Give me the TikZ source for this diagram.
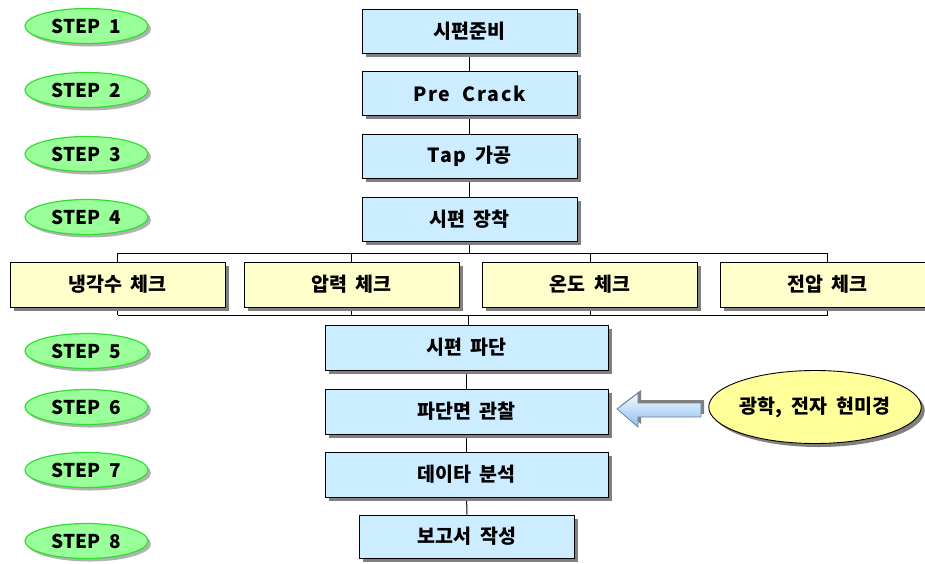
\documentclass[tikz,border=0pt]{standalone}
\usepackage{fontspec}
\usetikzlibrary{shapes.geometric,shadows,backgrounds}
\newfontfamily\kr{Noto Sans CJK KR}[WordSpace=2]
\newfontfamily\krwide{Noto Sans CJK KR}[WordSpace=2, LetterSpace=9]
\definecolor{boxblue}{RGB}{204,236,255}
\definecolor{boxyel}{RGB}{255,255,204}
\definecolor{stepgreen}{RGB}{153,255,153}
\definecolor{stepedge}{RGB}{51,220,51}
\definecolor{ovalyel}{RGB}{255,255,153}
\definecolor{shadowgray}{RGB}{128,128,128}
\definecolor{arrowlight}{RGB}{245,250,255}
\definecolor{arrowdark}{RGB}{140,190,240}
\tikzset{
  stepnode/.style={ellipse, draw=stepedge, line width=1.2pt, fill=stepgreen,
    minimum width=123pt, minimum height=35pt, inner sep=0pt,
    font=\kr\bfseries\fontsize{19}{19}\selectfont,
    drop shadow={shadow xshift=3pt, shadow yshift=-3pt, fill=shadowgray, opacity=0.6}},
  bluebox/.style={rectangle, draw=black, line width=0.9pt, fill=boxblue,
    minimum width=215pt, minimum height=44pt, inner sep=0pt,
    font=\kr\bfseries\fontsize{19.5}{19.5}\selectfont,
    drop shadow={shadow xshift=3.5pt, shadow yshift=-3.5pt, fill=shadowgray, opacity=1}},
  widebox/.style={bluebox, minimum width=283pt, minimum height=45pt},
  checkbox/.style={bluebox, fill=boxyel, minimum height=45pt},
  oval/.style={ellipse, draw=black, line width=0.9pt, fill=ovalyel,
    minimum width=200pt, minimum height=73pt, inner sep=0pt,
    font=\kr\bfseries\fontsize{19.5}{19.5}\selectfont,
    drop shadow={shadow xshift=3.5pt, shadow yshift=-3.5pt, fill=shadowgray, opacity=1}},
  conn/.style={draw=black, line width=1pt},
  latin/.style={font=\krwide\bfseries\fontsize{19.5}{19.5}\selectfont}
}
\begin{document}
\begin{tikzpicture}[x=1pt, y=-1pt]
\clip (0,0) rectangle (925,563);

% steps
\node[stepnode] (s1) at (86.5,26) {STEP 1};
\node[stepnode] (s2) at (86.5,90) {STEP 2};
\node[stepnode] (s3) at (86.5,154) {STEP 3};
\node[stepnode] (s4) at (86.5,217) {STEP 4};
\node[stepnode] (s5) at (86.5,351) {STEP 5};
\node[stepnode] (s6) at (86.5,407) {STEP 6};
\node[stepnode] (s7) at (86.5,470) {STEP 7};
\node[stepnode] (s8) at (86.5,541) {STEP 8};

% main boxes
\node[bluebox] (b1) at (469.5,31) {시편준비};
\node[bluebox, latin] (b2) at (469.5,93.5) {Pre Crack};
\node[bluebox] (b3) at (469.5,156.5) {{\krwide Tap} 가공};
\node[bluebox] (b4) at (469.5,219.5) {시편 장착};

\node[checkbox] (c1) at (117.5,284.5) {냉각수 체크};
\node[checkbox] (c2) at (351.5,284.5) {압력 체크};
\node[checkbox] (c3) at (590,284.5) {온도 체크};
\node[checkbox] (c4) at (827.5,284.5) {전압 체크};

\node[widebox] (b5) at (466.5,347.5) {시편 파단};
\node[widebox] (b6) at (466.5,411.5) {파단면 관찰};
\node[widebox] (b7) at (466.5,474.5) {데이타 분석};
\node[bluebox, minimum height=43pt] (b8) at (467,536.5) {보고서 작성};

\node[oval] (ov) at (815,407) {광학, 전자 현미경};

\coordinate (bt) at (468.5,253);
\coordinate (bb) at (468.5,315);

\begin{scope}[on background layer]
  \fill[white] (0,0) rectangle (925,563);
  \draw[conn] (b1) -- (b2);
  \draw[conn] (b2) -- (b3);
  \draw[conn] (b3) -- (b4);
  \draw[conn, line width=1.6pt] (b4.south) -- (b4.south |- bt);
  \draw[conn, line width=1.6pt] (bb) -- (bb |- b5.north);
  \draw[conn] (c1.center |- bt) -- (c4.center |- bt);
  \draw[conn] (c1.center |- bb) -- (c4.center |- bb);
  \draw[conn] (c1.center |- bt) -- (c1.center |- bb);
  \draw[conn] (c2.center |- bt) -- (c2.center |- bb);
  \draw[conn] (c3.center |- bt) -- (c3.center |- bb);
  \draw[conn] (c4.center |- bt) -- (c4.center |- bb);
  \draw[conn] (b5) -- (b6);
  \draw[conn] (b6) -- (b7);
  \draw[conn] (b7) -- (b8);
\end{scope}

% block arrow pointing to b6
\fill[shadowgray] ([xshift=3pt,yshift=3pt]617,409) -- ++(21,-16) -- ++(0,10) -- ++(63,0) -- ++(0,14) -- ++(-63,0) -- ++(0,10) -- cycle;
\path[draw={rgb,255:red,110;green,130;blue,150}, line width=0.8pt, top color=arrowlight, bottom color=arrowdark]
  (617,409) -- ++(21,-16) -- ++(0,10) -- ++(63,0) -- ++(0,14) -- ++(-63,0) -- ++(0,10) -- cycle;
\end{tikzpicture}
\end{document}
